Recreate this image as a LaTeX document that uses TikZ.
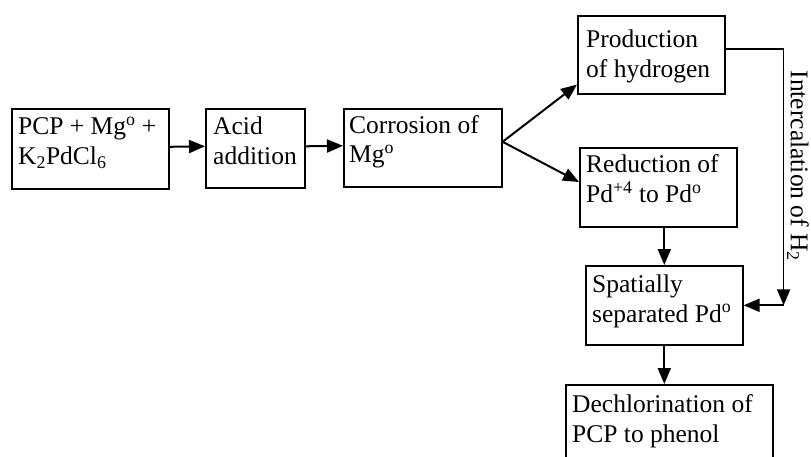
\documentclass[tikz,border=0pt]{standalone}
\usepackage{fontspec}
\setmainfont{Liberation Serif}
\usetikzlibrary{arrows.meta,calc}
\begin{document}
\begin{tikzpicture}[x=1pt,y=-1pt,
  box/.style={draw=black,line width=1.6pt,rectangle,inner sep=0pt,anchor=north west},
  txt/.style={anchor=base west,inner sep=0pt,font=\fontsize{25.5pt}{30pt}\selectfont},
  conn/.style={draw=black,line width=2pt,-{Triangle[length=16pt,width=13pt]}},
  plain/.style={draw=black,line width=1.7pt}]
\useasboundingbox (0,0) rectangle (811,457);
\clip (0,0) rectangle (811,457);
% boxes
\node[box,minimum width=157pt,minimum height=80pt] (b1) at (11,108) {};
\node[box,minimum width=99pt,minimum height=79pt] (b2) at (205,108) {};
\node[box,minimum width=158pt,minimum height=78pt] (b3) at (343,108) {};
\node[box,minimum width=147pt,minimum height=78pt] (prod) at (577,15) {};
\node[box,minimum width=157pt,minimum height=79pt] (red) at (579,147) {};
\node[box,minimum width=157pt,minimum height=79pt] (sp) at (585,265) {};
\node[box,minimum width=207pt,minimum height=78pt] (dech) at (565,384) {};
% texts
\node[txt] (t1a) at (18,135) {PCP + Mg\textsuperscript{o} +};
\node[txt] (t1b) at (18,165) {K\textsubscript{2}PdCl\textsubscript{6}};
\node[txt] (t2a) at (213,135) {Acid};
\node[txt] (t2b) at (213,165) {addition};
\node[txt] (t3a) at (349,134) {Corrosion of};
\node[txt] (t3b) at (349,163) {Mg\textsuperscript{o}};
\node[txt] (tpa) at (586,48) {Production};
\node[txt] (tpb) at (586,78) {of hydrogen};
\node[txt] (tra) at (586,173) {Reduction of};
\node[txt] (trb) at (586,203) {Pd\textsuperscript{+4} to Pd\textsuperscript{o}};
\node[txt] (tsa) at (592,292) {Spatially};
\node[txt] (tsb) at (592,322) {separated Pd\textsuperscript{o}};
\node[txt] (tda) at (572,412) {Dechlorination of};
\node[txt] (tdb) at (572,442) {PCP to phenol};
% side label
\node[inner sep=0pt,rotate=-90,font=\fontsize{25.5pt}{30pt}\selectfont] (lab) at (798,166) {Intercalation of H\textsubscript{2}};
% connectors
\draw[conn] ($(b1.east)+(0,-2)$) -- ($(b2.west)+(0,-2)$);
\draw[conn] ($(b2.east)+(0,-2)$) -- ($(b3.west)+(0,-2)$);
\coordinate (fork) at ($(b3.east)+(0,-6)$);
\draw[conn] (fork) -- ($(prod.south west)+(0,-10)$);
\draw[conn] (fork) -- ($(red.north west)+(0,35)$);
\draw[conn] (red.south -| sp.north) -- (sp.north);
\draw[conn] (sp.south) -- (sp.south |- dech.north);
\coordinate (c1) at ($(prod.north east)+(58,34)$);
\coordinate (c2) at (c1 |- sp.east);
\draw[plain] ($(prod.north east)+(0,34)$) -- (c1);
\draw[conn,line width=1.7pt] (c1) -- (c2);
\draw[conn] (c2) -- (sp.east);
\end{tikzpicture}
\end{document}
